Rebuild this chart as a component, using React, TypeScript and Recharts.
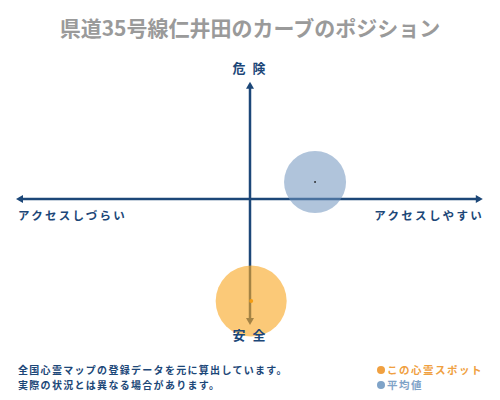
import React from 'react';
import { ScatterChart, Scatter, XAxis, YAxis, ReferenceLine } from 'recharts';

const TITLE = '県道35号線仁井田のカーブのポジション';
const AXIS_TOP = '危 険';
const AXIS_BOTTOM = '安 全';
const AXIS_LEFT = 'アクセスしづらい';
const AXIS_RIGHT = 'アクセスしやすい';
const NOTES = ['全国心霊マップの登録データを元に算出しています。', '実際の状況とは異なる場合があります。'];

const spotData = [{ x: 0.5, y: -81 }];
const averageData = [{ x: 27.8, y: 13.5 }];
const SERIES_NAMES = ['この心霊スポット', '平均値'];

const NAVY = '#1c4778';
const FONT = '"Noto Sans CJK JP", "Noto Sans", sans-serif';

const arrowLine = (dir: 'h' | 'v') => (props: any) => {
  const { x1, y1, x2, y2 } = props;
  const a = 7;
  const w = 4;
  if (dir === 'h') {
    const left = Math.min(x1, x2);
    const right = Math.max(x1, x2);
    const y = y1;
    return (
      <g>
        <line x1={left + 3} y1={y} x2={right - 3} y2={y} stroke={NAVY} strokeWidth={2.5} />
        <polygon points={`${left},${y} ${left + a},${y - w} ${left + a},${y + w}`} fill={NAVY} />
        <polygon points={`${right},${y} ${right - a},${y - w} ${right - a},${y + w}`} fill={NAVY} />
      </g>
    );
  }
  const top = Math.min(y1, y2);
  const bottom = Math.max(y1, y2);
  const x = x1;
  return (
    <g>
      <line x1={x} y1={top + 3} x2={x} y2={bottom - 3} stroke={NAVY} strokeWidth={2.5} />
      <polygon points={`${x},${top} ${x - w},${top + a} ${x + w},${top + a}`} fill={NAVY} />
      <polygon points={`${x},${bottom} ${x - w},${bottom - a} ${x + w},${bottom - a}`} fill={NAVY} />
    </g>
  );
};

const bubble = (r: number, fill: string, opacity: number, dot: string, dotR: number) => (props: any) => (
  <g>
    <circle cx={props.cx} cy={props.cy} r={r} fill={fill} fillOpacity={opacity} />
    <circle cx={props.cx} cy={props.cy} r={dotR} fill={dot} />
  </g>
);

const legendColors = ['#f0a040', '#7fa3c8'];
const legendTextColors = ['#f0a040', '#7fa3c8'];

const textBase: React.CSSProperties = {
  position: 'absolute',
  fontFamily: FONT,
  fontWeight: 700,
  whiteSpace: 'nowrap',
  lineHeight: 1,
};

export default function App() {
  return (
    <div style={{ position: 'absolute', left: 0, top: 0, width: 500, height: 400, background: '#fff' }}>
      <ScatterChart width={500} height={400} margin={{ top: 73, right: 16, bottom: 75, left: 16 }}>
        <XAxis type="number" dataKey="x" domain={[-100, 100]} hide />
        <YAxis type="number" dataKey="y" domain={[-100, 100]} hide />
        <ReferenceLine
          segment={[{ x: -100, y: 0 }, { x: 99.5, y: 0 }]}
          ifOverflow="visible"
          shape={arrowLine('h')}
        />
        <ReferenceLine
          segment={[{ x: 0, y: -100 }, { x: 0, y: 93 }]}
          ifOverflow="visible"
          shape={arrowLine('v')}
        />
        <Scatter
          name={SERIES_NAMES[1]}
          data={averageData}
          isAnimationActive={false}
          shape={bubble(31, '#6f93bd', 0.55, '#222', 0.9)}
        />
        <Scatter
          name={SERIES_NAMES[0]}
          data={spotData}
          isAnimationActive={false}
          shape={bubble(35.5, '#f9a825', 0.62, '#f39c12', 2)}
        />
      </ScatterChart>
      <div style={{ ...textBase, left: 0, width: 500, top: 17, textAlign: 'center', fontSize: 21, color: '#9a9a9a' }}>{TITLE}</div>
      <div style={{ ...textBase, left: 0, width: 500, top: 61, textAlign: 'center', fontSize: 13, color: NAVY, letterSpacing: 2 }}>{AXIS_TOP}</div>
      <div style={{ ...textBase, left: 0, width: 500, top: 328, textAlign: 'center', fontSize: 13, color: NAVY, letterSpacing: 2 }}>{AXIS_BOTTOM}</div>
      <div style={{ ...textBase, left: 18, top: 210, fontSize: 11.5, color: NAVY, letterSpacing: 2.3 }}>{AXIS_LEFT}</div>
      <div style={{ ...textBase, right: 16, top: 210, fontSize: 11.5, color: NAVY, letterSpacing: 2.3 }}>{AXIS_RIGHT}</div>
      <div style={{ ...textBase, left: 18, top: 362, fontSize: 10, color: NAVY, letterSpacing: 1.3, lineHeight: '15px' }}>
        {NOTES.map((n) => (
          <div key={n}>{n}</div>
        ))}
      </div>
      <div style={{ ...textBase, left: 377, top: 362, fontSize: 10.5, lineHeight: '15px', letterSpacing: 1.5 }}>
        {SERIES_NAMES.map((n, i) => (
          <div key={n} style={{ display: 'flex', alignItems: 'center', color: legendTextColors[i] }}>
            <span style={{ display: 'inline-block', width: 8, height: 8, borderRadius: 4, background: legendColors[i], marginRight: 2 }} />
            {n}
          </div>
        ))}
      </div>
    </div>
  );
}
